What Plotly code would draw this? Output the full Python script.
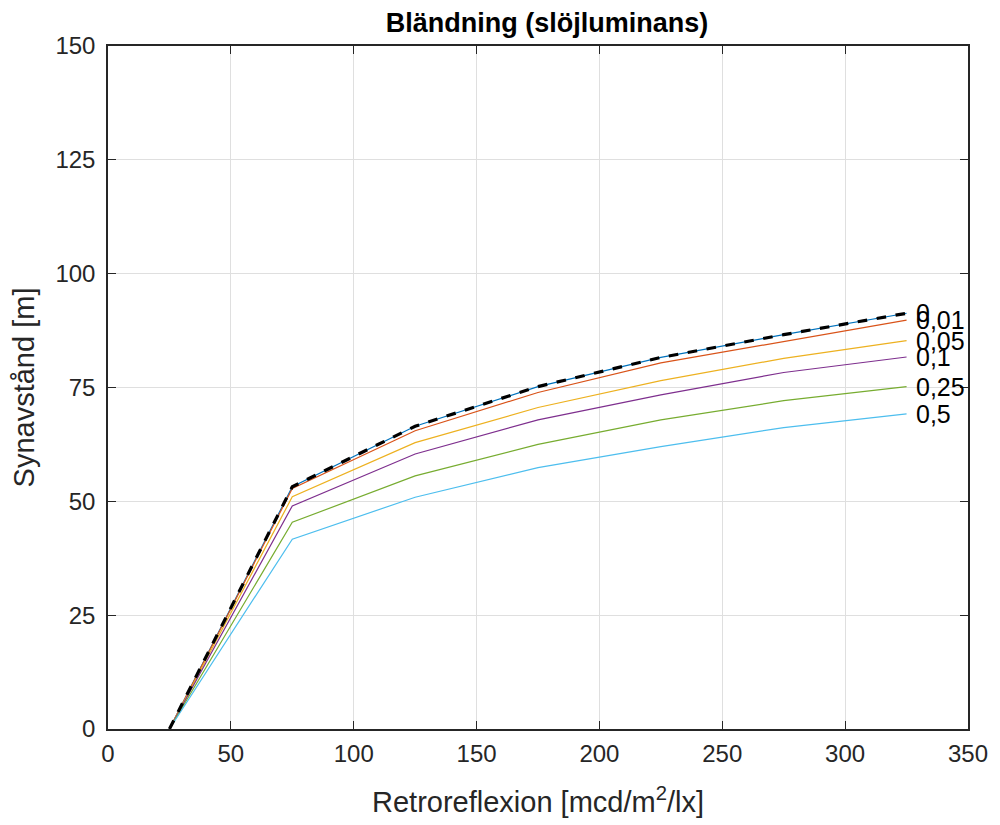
import plotly.graph_objects as go

retro = [25, 75, 125, 175, 225, 275, 325]
labels = ["0", "0,01", "0,05", "0,1", "0,25", "0,5"]
series = [
    [0, 53.2, 66.5, 75.2, 81.6, 86.6, 91.3],
    [0, 52.8, 65.5, 73.9, 80.4, 85.1, 89.8],
    [0, 51.0, 62.9, 70.6, 76.5, 81.4, 85.3],
    [0, 49.0, 60.4, 67.9, 73.4, 78.3, 81.7],
    [0, 45.4, 55.6, 62.5, 67.9, 72.1, 75.2],
    [0, 41.7, 50.9, 57.4, 62.0, 66.2, 69.2],
]
reference = series[0]
colors = ["#0072BD", "#D95319", "#EDB120", "#7E2F8E", "#77AC30", "#4DBEEE"]

FONT = "Liberation Sans, Arial, sans-serif"

fig = go.Figure()
for s, c in zip(series, colors):
    fig.add_trace(go.Scatter(x=retro, y=s, mode="lines", line=dict(color=c, width=1.2),
                             showlegend=False, hoverinfo="skip"))
fig.add_trace(go.Scatter(x=retro, y=reference, mode="lines",
                         line=dict(color="black", width=3.2, dash="dash"),
                         showlegend=False, hoverinfo="skip"))
for lab, s in zip(labels, series):
    fig.add_annotation(x=retro[-1], y=s[-1], text=lab, showarrow=False,
                       xanchor="left", yanchor="middle", xshift=7,
                       font=dict(family=FONT, size=25, color="black"))

axis_common = dict(showline=True, linecolor="#262626", linewidth=1.5, mirror="ticks",
                   ticks="inside", ticklen=8, tickcolor="#262626", tickwidth=1.2,
                   showgrid=True, gridcolor="#DFDFDF", gridwidth=1, zeroline=False,
                   tickfont=dict(family=FONT, size=24, color="#262626"))

fig.update_layout(
    width=1000, height=825,
    margin=dict(l=108, r=25, t=46, b=96),
    paper_bgcolor="white", plot_bgcolor="white",
    title=dict(text="<b>Bländning (slöjluminans)</b>", x=0.547, xanchor="center",
               y=0.973, yanchor="middle",
               font=dict(family=FONT, size=27, color="black")),
    xaxis=dict(range=[0, 350], tickvals=[0, 50, 100, 150, 200, 250, 300, 350],
               ticklabelstandoff=2,
               title=dict(text="Retroreflexion [mcd/m<sup>2</sup>/lx]", standoff=26,
                          font=dict(family=FONT, size=29, color="#262626")),
               **axis_common),
    yaxis=dict(range=[0, 150], tickvals=[0, 25, 50, 75, 100, 125, 150],
               ticklabelstandoff=6,
               title=dict(text="Synavstånd [m]", standoff=12,
                          font=dict(family=FONT, size=29, color="#262626")),
               **axis_common),
)
fig.write_html("out.html")
